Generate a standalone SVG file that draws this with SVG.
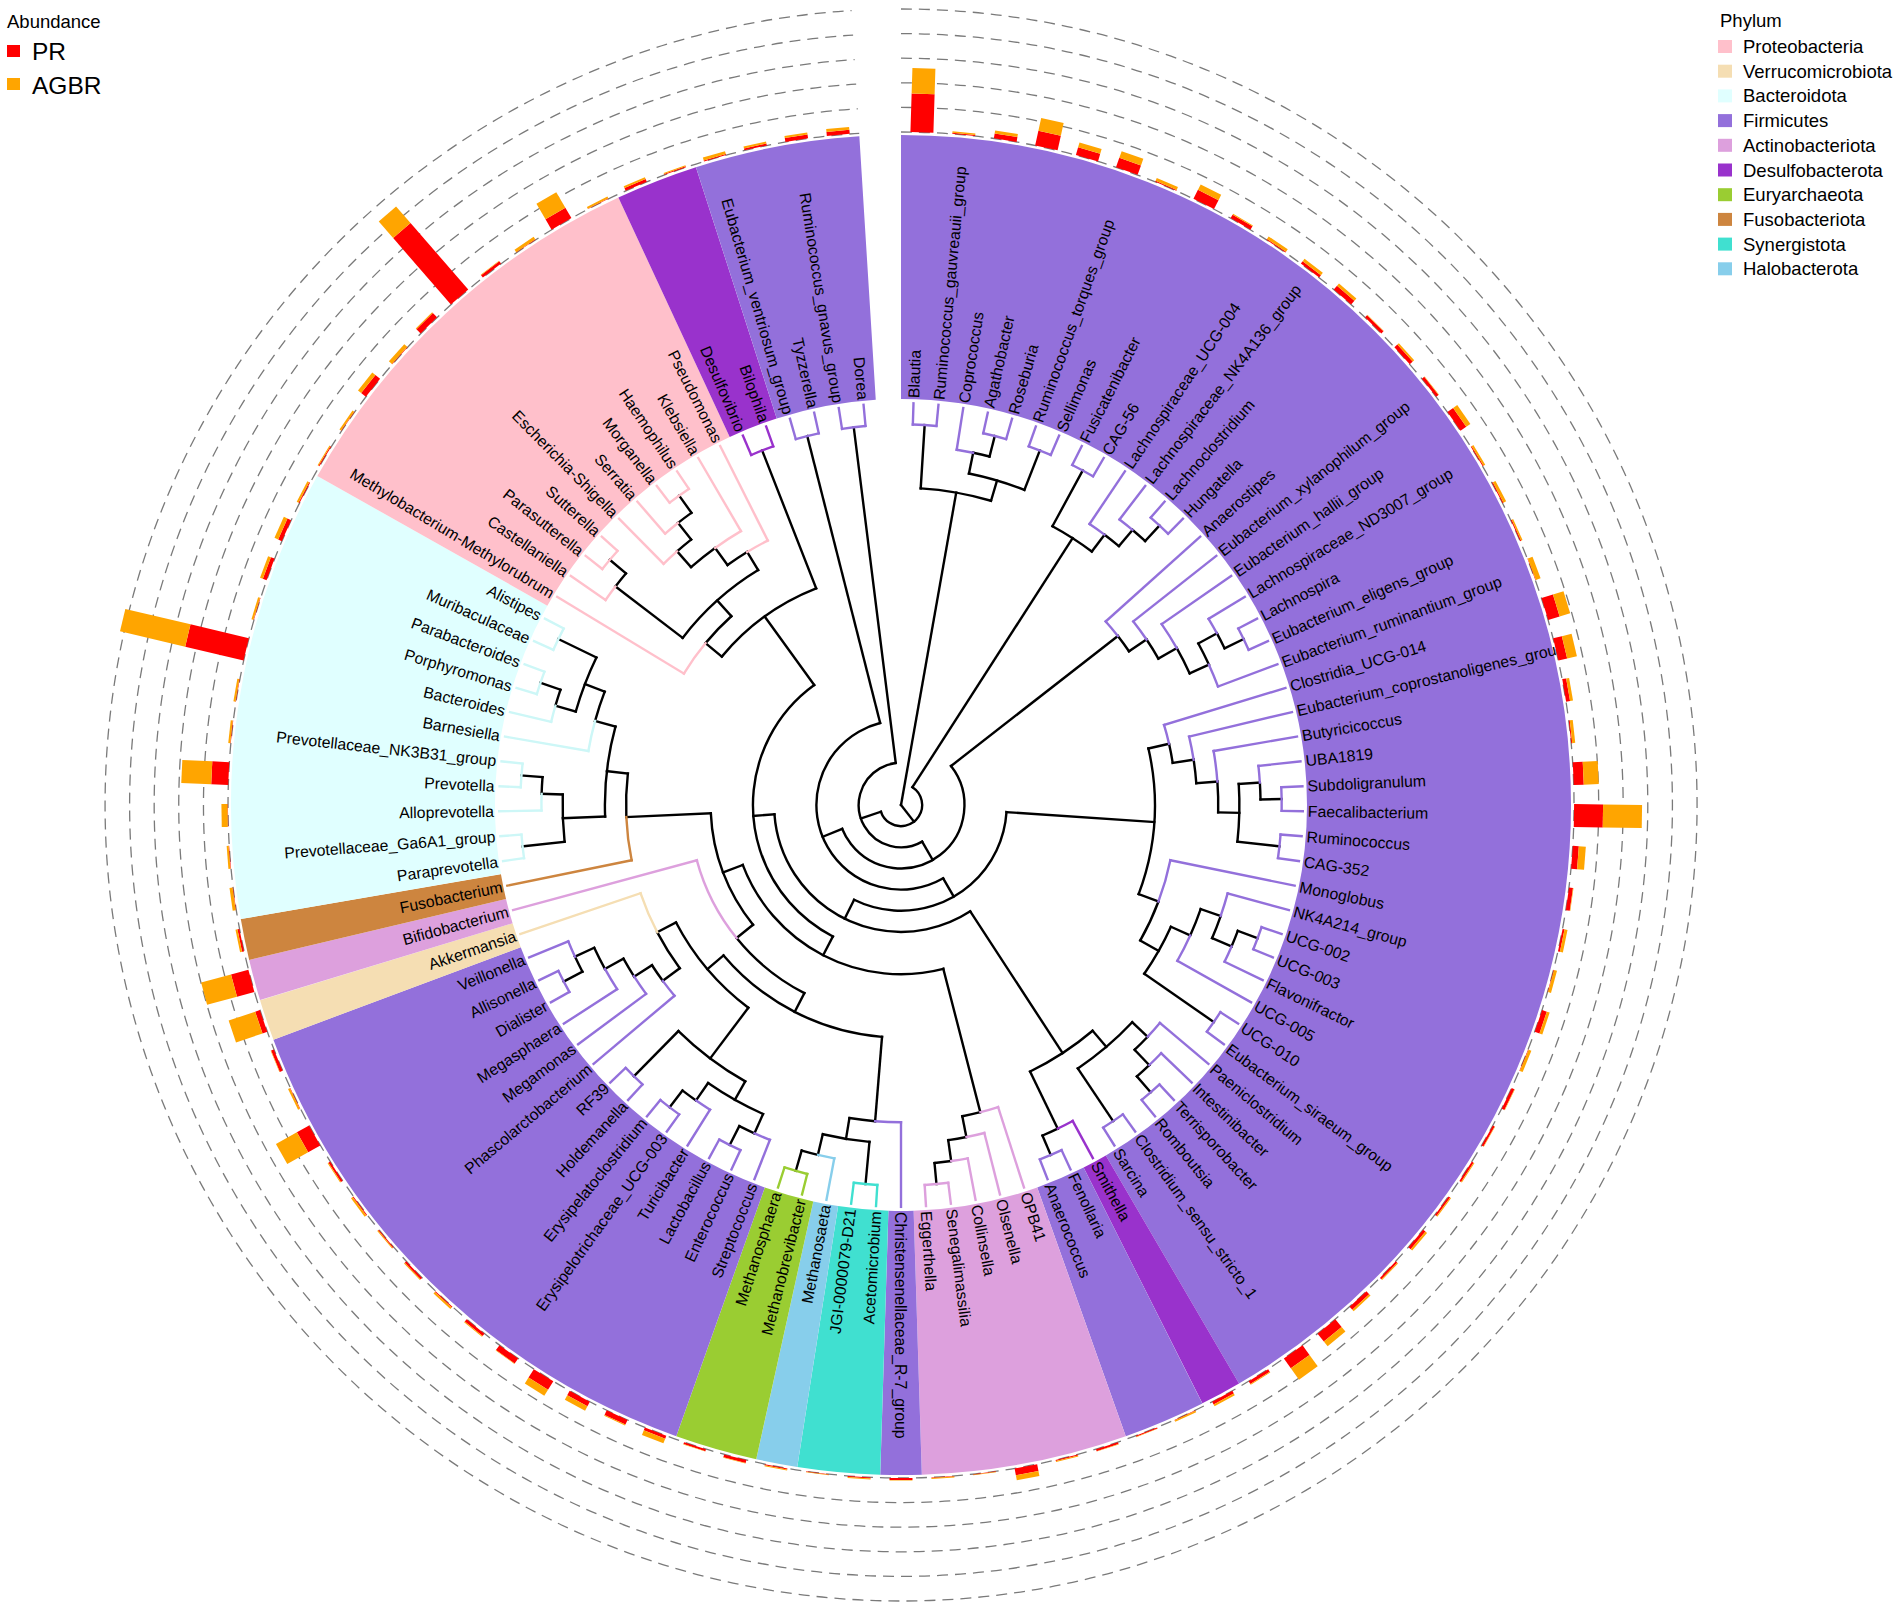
<svg xmlns="http://www.w3.org/2000/svg" width="1902" height="1610" viewBox="0 0 1902 1610">
<style>
text{font-family:"Liberation Sans",Arial,sans-serif;fill:#000}
.l{font-size:15.8px}
.r{text-anchor:end}
.sec{fill:none;stroke-width:264}
.dash{fill:none;stroke:#7a7a7a;stroke-width:1.3;stroke-dasharray:11 7}
.pr{fill:#FF0000}.ag{fill:#FFA500}
.e{fill:none;stroke:#000;stroke-width:2.4;stroke-linecap:square}
.fi{stroke:#9370DB}.de{stroke:#9932CC}.pt{stroke:#FFC0CB}.bc{stroke:#CDF7F7}.ac{stroke:#DDA0DD}.vr{stroke:#F5DEB3}.fu{stroke:#CD853F}.sy{stroke:#40E0D0}.ha{stroke:#87CEEB}.eu{stroke:#9ACD32}
.lt{font-size:18.5px}.lg{font-size:24.5px}
</style>
<rect width="1902" height="1610" fill="#fff"/>
<g id="sectors" transform="translate(901,805)">
<circle class="sec" r="538" pathLength="360" stroke="#9370DB" stroke-dasharray="149.70 400" transform="rotate(-90)"/>
<circle class="sec" r="538" pathLength="360" stroke="#9932CC" stroke-dasharray="3.57 400" transform="rotate(59.70)"/>
<circle class="sec" r="538" pathLength="360" stroke="#9370DB" stroke-dasharray="7.13 400" transform="rotate(63.27)"/>
<circle class="sec" r="538" pathLength="360" stroke="#DDA0DD" stroke-dasharray="17.82 400" transform="rotate(70.40)"/>
<circle class="sec" r="538" pathLength="360" stroke="#9370DB" stroke-dasharray="3.56 400" transform="rotate(88.22)"/>
<circle class="sec" r="538" pathLength="360" stroke="#40E0D0" stroke-dasharray="7.13 400" transform="rotate(91.78)"/>
<circle class="sec" r="538" pathLength="360" stroke="#87CEEB" stroke-dasharray="3.57 400" transform="rotate(98.91)"/>
<circle class="sec" r="538" pathLength="360" stroke="#9ACD32" stroke-dasharray="7.12 400" transform="rotate(102.48)"/>
<circle class="sec" r="538" pathLength="360" stroke="#9370DB" stroke-dasharray="49.90 400" transform="rotate(109.60)"/>
<circle class="sec" r="538" pathLength="360" stroke="#F5DEB3" stroke-dasharray="3.57 400" transform="rotate(159.50)"/>
<circle class="sec" r="538" pathLength="360" stroke="#DDA0DD" stroke-dasharray="3.56 400" transform="rotate(163.07)"/>
<circle class="sec" r="538" pathLength="360" stroke="#CD853F" stroke-dasharray="3.57 400" transform="rotate(166.63)"/>
<circle class="sec" r="538" pathLength="360" stroke="#E0FFFF" stroke-dasharray="39.21 400" transform="rotate(170.20)"/>
<circle class="sec" r="538" pathLength="360" stroke="#FFC0CB" stroke-dasharray="35.64 400" transform="rotate(209.41)"/>
<circle class="sec" r="538" pathLength="360" stroke="#9932CC" stroke-dasharray="7.13 400" transform="rotate(245.05)"/>
<circle class="sec" r="538" pathLength="360" stroke="#9370DB" stroke-dasharray="14.26 400" transform="rotate(252.18)"/>
</g>
<g id="grid" transform="translate(901,805)">
<path class="dash" d="M0,-673A673,673 0 1 1 -41.79,-671.70"/>
<path class="dash" d="M0,-697.6A697.6,697.6 0 1 1 -43.31,-696.25"/>
<path class="dash" d="M0,-722.2A722.2,722.2 0 1 1 -44.84,-720.81"/>
<path class="dash" d="M0,-746.8A746.8,746.8 0 1 1 -46.37,-745.36"/>
<path class="dash" d="M0,-771.4A771.4,771.4 0 1 1 -47.90,-769.91"/>
<path class="dash" d="M0,-796A796,796 0 1 1 -49.42,-794.46"/>
</g>
<g id="bars" transform="translate(901,805)">
<g transform="rotate(1.782)"><rect class="pr" x="-11.5" y="-711.4" width="23" height="38.4"/><rect class="ag" x="-11.5" y="-737" width="23" height="25.6"/></g>
<g transform="rotate(5.347)"><rect class="pr" x="-11.5" y="-674" width="23" height="1"/><rect class="ag" x="-11.5" y="-675.5" width="23" height="1.5"/></g>
<g transform="rotate(8.911)"><rect class="pr" x="-11.5" y="-678" width="23" height="5"/><rect class="ag" x="-11.5" y="-681" width="23" height="3"/></g>
<g transform="rotate(12.475)"><rect class="pr" x="-11.5" y="-688" width="23" height="15"/><rect class="ag" x="-11.5" y="-701" width="23" height="13"/></g>
<g transform="rotate(16.040)"><rect class="pr" x="-11.5" y="-681" width="23" height="8"/><rect class="ag" x="-11.5" y="-686" width="23" height="5"/></g>
<g transform="rotate(19.604)"><rect class="pr" x="-11.5" y="-683" width="23" height="10"/><rect class="ag" x="-11.5" y="-690" width="23" height="7"/></g>
<g transform="rotate(23.168)"><rect class="pr" x="-11.5" y="-674" width="23" height="1"/><rect class="ag" x="-11.5" y="-677" width="23" height="3"/></g>
<g transform="rotate(26.733)"><rect class="pr" x="-11.5" y="-683" width="23" height="10"/><rect class="ag" x="-11.5" y="-689" width="23" height="6"/></g>
<g transform="rotate(30.297)"><rect class="pr" x="-11.5" y="-677" width="23" height="4"/><rect class="ag" x="-11.5" y="-678" width="23" height="1"/></g>
<g transform="rotate(33.861)"><rect class="pr" x="-11.5" y="-674" width="23" height="1"/><rect class="ag" x="-11.5" y="-677" width="23" height="3"/></g>
<g transform="rotate(37.426)"><rect class="pr" x="-11.5" y="-676" width="23" height="3"/><rect class="ag" x="-11.5" y="-679" width="23" height="3"/></g>
<g transform="rotate(40.990)"><rect class="pr" x="-11.5" y="-678" width="23" height="5"/><rect class="ag" x="-11.5" y="-681" width="23" height="3"/></g>
<g transform="rotate(44.554)"><rect class="pr" x="-11.5" y="-676" width="23" height="3"/><rect class="ag" x="-11.5" y="-676.5" width="23" height="0.5"/></g>
<g transform="rotate(48.119)"><rect class="pr" x="-11.5" y="-677" width="23" height="4"/><rect class="ag" x="-11.5" y="-679" width="23" height="2"/></g>
<g transform="rotate(51.683)"><rect class="pr" x="-11.5" y="-676" width="23" height="3"/><rect class="ag" x="-11.5" y="-676.5" width="23" height="0.5"/></g>
<g transform="rotate(55.248)"><rect class="pr" x="-11.5" y="-680" width="23" height="7"/><rect class="ag" x="-11.5" y="-685" width="23" height="5"/></g>
<g transform="rotate(58.812)"><rect class="pr" x="-11.5" y="-674" width="23" height="1"/><rect class="ag" x="-11.5" y="-676" width="23" height="2"/></g>
<g transform="rotate(62.376)"><rect class="pr" x="-11.5" y="-674" width="23" height="1"/><rect class="ag" x="-11.5" y="-677" width="23" height="3"/></g>
<g transform="rotate(65.941)"><rect class="pr" x="-11.5" y="-674" width="23" height="1"/><rect class="ag" x="-11.5" y="-675.5" width="23" height="1.5"/></g>
<g transform="rotate(69.505)"><rect class="pr" x="-11.5" y="-673.5" width="23" height="0.5"/><rect class="ag" x="-11.5" y="-678.5" width="23" height="5"/></g>
<g transform="rotate(73.069)"><rect class="pr" x="-11.5" y="-685" width="23" height="12"/><rect class="ag" x="-11.5" y="-696" width="23" height="11"/></g>
<g transform="rotate(76.634)"><rect class="pr" x="-11.5" y="-682" width="23" height="9"/><rect class="ag" x="-11.5" y="-692" width="23" height="10"/></g>
<g transform="rotate(80.198)"><rect class="pr" x="-11.5" y="-677" width="23" height="4"/><rect class="ag" x="-11.5" y="-680" width="23" height="3"/></g>
<g transform="rotate(83.762)"><rect class="pr" x="-11.5" y="-674" width="23" height="1"/><rect class="ag" x="-11.5" y="-677" width="23" height="3"/></g>
<g transform="rotate(87.327)"><rect class="pr" x="-11.5" y="-683" width="23" height="10"/><rect class="ag" x="-11.5" y="-698" width="23" height="15"/></g>
<g transform="rotate(90.891)"><rect class="pr" x="-11.5" y="-702" width="23" height="29"/><rect class="ag" x="-11.5" y="-741" width="23" height="39"/></g>
<g transform="rotate(94.455)"><rect class="pr" x="-11.5" y="-679" width="23" height="6"/><rect class="ag" x="-11.5" y="-686" width="23" height="7"/></g>
<g transform="rotate(98.020)"><rect class="pr" x="-11.5" y="-677" width="23" height="4"/><rect class="ag" x="-11.5" y="-677.5" width="23" height="0.5"/></g>
<g transform="rotate(101.584)"><rect class="pr" x="-11.5" y="-675" width="23" height="2"/><rect class="ag" x="-11.5" y="-678" width="23" height="3"/></g>
<g transform="rotate(105.149)"><rect class="pr" x="-11.5" y="-673.5" width="23" height="0.5"/><rect class="ag" x="-11.5" y="-676.5" width="23" height="3"/></g>
<g transform="rotate(108.713)"><rect class="pr" x="-11.5" y="-678" width="23" height="5"/><rect class="ag" x="-11.5" y="-681" width="23" height="3"/></g>
<g transform="rotate(112.277)"><rect class="pr" x="-11.5" y="-673.5" width="23" height="0.5"/><rect class="ag" x="-11.5" y="-676.5" width="23" height="3"/></g>
<g transform="rotate(115.842)"><rect class="pr" x="-11.5" y="-676" width="23" height="3"/><rect class="ag" x="-11.5" y="-676.5" width="23" height="0.5"/></g>
<g transform="rotate(119.406)"><rect class="pr" x="-11.5" y="-675" width="23" height="2"/><rect class="ag" x="-11.5" y="-675.5" width="23" height="0.5"/></g>
<g transform="rotate(122.970)"><rect class="pr" x="-11.5" y="-675" width="23" height="2"/><rect class="ag" x="-11.5" y="-676" width="23" height="1"/></g>
<g transform="rotate(126.535)"><rect class="pr" x="-11.5" y="-675" width="23" height="2"/><rect class="ag" x="-11.5" y="-676" width="23" height="1"/></g>
<g transform="rotate(130.099)"><rect class="pr" x="-11.5" y="-676" width="23" height="3"/><rect class="ag" x="-11.5" y="-678" width="23" height="2"/></g>
<g transform="rotate(133.663)"><rect class="pr" x="-11.5" y="-675" width="23" height="2"/><rect class="ag" x="-11.5" y="-676" width="23" height="1"/></g>
<g transform="rotate(137.228)"><rect class="pr" x="-11.5" y="-677" width="23" height="4"/><rect class="ag" x="-11.5" y="-679" width="23" height="2"/></g>
<g transform="rotate(140.792)"><rect class="pr" x="-11.5" y="-683" width="23" height="10"/><rect class="ag" x="-11.5" y="-689" width="23" height="6"/></g>
<g transform="rotate(144.356)"><rect class="pr" x="-11.5" y="-685" width="23" height="12"/><rect class="ag" x="-11.5" y="-699" width="23" height="14"/></g>
<g transform="rotate(147.921)"><rect class="pr" x="-11.5" y="-676" width="23" height="3"/><rect class="ag" x="-11.5" y="-677" width="23" height="1"/></g>
<g transform="rotate(151.485)"><rect class="pr" x="-11.5" y="-676" width="23" height="3"/><rect class="ag" x="-11.5" y="-678" width="23" height="2"/></g>
<g transform="rotate(155.050)"><rect class="pr" x="-11.5" y="-673.5" width="23" height="0.5"/><rect class="ag" x="-11.5" y="-675" width="23" height="1.5"/></g>
<g transform="rotate(158.614)"><rect class="pr" x="-11.5" y="-674" width="23" height="1"/><rect class="ag" x="-11.5" y="-674.5" width="23" height="0.5"/></g>
<g transform="rotate(162.178)"><rect class="pr" x="-11.5" y="-675" width="23" height="2"/><rect class="ag" x="-11.5" y="-675.5" width="23" height="0.5"/></g>
<g transform="rotate(165.743)"><rect class="pr" x="-11.5" y="-674" width="23" height="1"/><rect class="ag" x="-11.5" y="-675" width="23" height="1"/></g>
<g transform="rotate(169.307)"><rect class="pr" x="-11.5" y="-680" width="23" height="7"/><rect class="ag" x="-11.5" y="-685" width="23" height="5"/></g>
<g transform="rotate(172.871)"><rect class="pr" x="-11.5" y="-673.5" width="23" height="0.5"/><rect class="ag" x="-11.5" y="-674" width="23" height="0.5"/></g>
<g transform="rotate(176.436)"><rect class="pr" x="-11.5" y="-673.5" width="23" height="0.5"/><rect class="ag" x="-11.5" y="-674.5" width="23" height="1"/></g>
<g transform="rotate(180)"><rect class="pr" x="-11.5" y="-675" width="23" height="2"/><rect class="ag" x="-11.5" y="-675.5" width="23" height="0.5"/></g>
<g transform="rotate(183.564)"><rect class="pr" x="-11.5" y="-674" width="23" height="1"/><rect class="ag" x="-11.5" y="-675" width="23" height="1"/></g>
<g transform="rotate(187.129)"><rect class="pr" x="-11.5" y="-673.5" width="23" height="0.5"/><rect class="ag" x="-11.5" y="-674" width="23" height="0.5"/></g>
<g transform="rotate(190.693)"><rect class="pr" x="-11.5" y="-674" width="23" height="1"/><rect class="ag" x="-11.5" y="-675" width="23" height="1"/></g>
<g transform="rotate(194.257)"><rect class="pr" x="-11.5" y="-676" width="23" height="3"/><rect class="ag" x="-11.5" y="-676.5" width="23" height="0.5"/></g>
<g transform="rotate(197.822)"><rect class="pr" x="-11.5" y="-675" width="23" height="2"/><rect class="ag" x="-11.5" y="-675.5" width="23" height="0.5"/></g>
<g transform="rotate(201.386)"><rect class="pr" x="-11.5" y="-676" width="23" height="3"/><rect class="ag" x="-11.5" y="-681" width="23" height="5"/></g>
<g transform="rotate(204.950)"><rect class="pr" x="-11.5" y="-678" width="23" height="5"/><rect class="ag" x="-11.5" y="-679" width="23" height="1"/></g>
<g transform="rotate(208.515)"><rect class="pr" x="-11.5" y="-678" width="23" height="5"/><rect class="ag" x="-11.5" y="-683" width="23" height="5"/></g>
<g transform="rotate(212.079)"><rect class="pr" x="-11.5" y="-683" width="23" height="10"/><rect class="ag" x="-11.5" y="-690" width="23" height="7"/></g>
<g transform="rotate(215.644)"><rect class="pr" x="-11.5" y="-679" width="23" height="6"/><rect class="ag" x="-11.5" y="-679.5" width="23" height="0.5"/></g>
<g transform="rotate(219.208)"><rect class="pr" x="-11.5" y="-676" width="23" height="3"/><rect class="ag" x="-11.5" y="-677" width="23" height="1"/></g>
<g transform="rotate(222.772)"><rect class="pr" x="-11.5" y="-674" width="23" height="1"/><rect class="ag" x="-11.5" y="-676" width="23" height="2"/></g>
<g transform="rotate(226.337)"><rect class="pr" x="-11.5" y="-675" width="23" height="2"/><rect class="ag" x="-11.5" y="-676" width="23" height="1"/></g>
<g transform="rotate(229.901)"><rect class="pr" x="-11.5" y="-674" width="23" height="1"/><rect class="ag" x="-11.5" y="-675" width="23" height="1"/></g>
<g transform="rotate(233.465)"><rect class="pr" x="-11.5" y="-674" width="23" height="1"/><rect class="ag" x="-11.5" y="-676" width="23" height="2"/></g>
<g transform="rotate(237.030)"><rect class="pr" x="-11.5" y="-675" width="23" height="2"/><rect class="ag" x="-11.5" y="-676" width="23" height="1"/></g>
<g transform="rotate(240.594)"><rect class="pr" x="-11.5" y="-687" width="23" height="14"/><rect class="ag" x="-11.5" y="-711" width="23" height="24"/></g>
<g transform="rotate(244.158)"><rect class="pr" x="-11.5" y="-673.5" width="23" height="0.5"/><rect class="ag" x="-11.5" y="-675.5" width="23" height="2"/></g>
<g transform="rotate(247.723)"><rect class="pr" x="-11.5" y="-676" width="23" height="3"/><rect class="ag" x="-11.5" y="-676.5" width="23" height="0.5"/></g>
<g transform="rotate(251.287)"><rect class="pr" x="-11.5" y="-678" width="23" height="5"/><rect class="ag" x="-11.5" y="-706" width="23" height="28"/></g>
<g transform="rotate(254.851)"><rect class="pr" x="-11.5" y="-691" width="23" height="18"/><rect class="ag" x="-11.5" y="-722" width="23" height="31"/></g>
<g transform="rotate(258.416)"><rect class="pr" x="-11.5" y="-675" width="23" height="2"/><rect class="ag" x="-11.5" y="-677" width="23" height="2"/></g>
<g transform="rotate(261.980)"><rect class="pr" x="-11.5" y="-673.5" width="23" height="0.5"/><rect class="ag" x="-11.5" y="-676.5" width="23" height="3"/></g>
<g transform="rotate(265.545)"><rect class="pr" x="-11.5" y="-673.5" width="23" height="0.5"/><rect class="ag" x="-11.5" y="-675.5" width="23" height="2"/></g>
<g transform="rotate(269.109)"><rect class="pr" x="-11.5" y="-673.5" width="23" height="0.5"/><rect class="ag" x="-11.5" y="-679.5" width="23" height="6"/></g>
<g transform="rotate(272.673)"><rect class="pr" x="-11.5" y="-690" width="23" height="17"/><rect class="ag" x="-11.5" y="-720" width="23" height="30"/></g>
<g transform="rotate(276.238)"><rect class="pr" x="-11.5" y="-673.5" width="23" height="0.5"/><rect class="ag" x="-11.5" y="-675.5" width="23" height="2"/></g>
<g transform="rotate(279.802)"><rect class="pr" x="-11.5" y="-673.5" width="23" height="0.5"/><rect class="ag" x="-11.5" y="-675.5" width="23" height="2"/></g>
<g transform="rotate(283.366)"><rect class="pr" x="-11.5" y="-733" width="23" height="60"/><rect class="ag" x="-11.5" y="-800" width="23" height="67"/></g>
<g transform="rotate(286.931)"><rect class="pr" x="-11.5" y="-673.5" width="23" height="0.5"/><rect class="ag" x="-11.5" y="-675.5" width="23" height="2"/></g>
<g transform="rotate(290.495)"><rect class="pr" x="-11.5" y="-677" width="23" height="4"/><rect class="ag" x="-11.5" y="-680" width="23" height="3"/></g>
<g transform="rotate(294.059)"><rect class="pr" x="-11.5" y="-677" width="23" height="4"/><rect class="ag" x="-11.5" y="-681" width="23" height="4"/></g>
<g transform="rotate(297.624)"><rect class="pr" x="-11.5" y="-674" width="23" height="1"/><rect class="ag" x="-11.5" y="-676" width="23" height="2"/></g>
<g transform="rotate(301.188)"><rect class="pr" x="-11.5" y="-674" width="23" height="1"/><rect class="ag" x="-11.5" y="-675" width="23" height="1"/></g>
<g transform="rotate(304.752)"><rect class="pr" x="-11.5" y="-673.5" width="23" height="0.5"/><rect class="ag" x="-11.5" y="-675.5" width="23" height="2"/></g>
<g transform="rotate(308.317)"><rect class="pr" x="-11.5" y="-679" width="23" height="6"/><rect class="ag" x="-11.5" y="-683" width="23" height="4"/></g>
<g transform="rotate(311.881)"><rect class="pr" x="-11.5" y="-673.5" width="23" height="0.5"/><rect class="ag" x="-11.5" y="-677.5" width="23" height="4"/></g>
<g transform="rotate(315.446)"><rect class="pr" x="-11.5" y="-679" width="23" height="6"/><rect class="ag" x="-11.5" y="-680" width="23" height="1"/></g>
<g transform="rotate(319.010)"><rect class="pr" x="-11.5" y="-761" width="23" height="88"/><rect class="ag" x="-11.5" y="-783" width="23" height="22"/></g>
<g transform="rotate(322.574)"><rect class="pr" x="-11.5" y="-676" width="23" height="3"/><rect class="ag" x="-11.5" y="-676.5" width="23" height="0.5"/></g>
<g transform="rotate(326.139)"><rect class="pr" x="-11.5" y="-673.5" width="23" height="0.5"/><rect class="ag" x="-11.5" y="-676.5" width="23" height="3"/></g>
<g transform="rotate(329.703)"><rect class="pr" x="-11.5" y="-685" width="23" height="12"/><rect class="ag" x="-11.5" y="-703" width="23" height="18"/></g>
<g transform="rotate(333.267)"><rect class="pr" x="-11.5" y="-673.5" width="23" height="0.5"/><rect class="ag" x="-11.5" y="-675.5" width="23" height="2"/></g>
<g transform="rotate(336.832)"><rect class="pr" x="-11.5" y="-676" width="23" height="3"/><rect class="ag" x="-11.5" y="-678" width="23" height="2"/></g>
<g transform="rotate(340.396)"><rect class="pr" x="-11.5" y="-674" width="23" height="1"/><rect class="ag" x="-11.5" y="-675" width="23" height="1"/></g>
<g transform="rotate(343.960)"><rect class="pr" x="-11.5" y="-674" width="23" height="1"/><rect class="ag" x="-11.5" y="-677" width="23" height="3"/></g>
<g transform="rotate(347.525)"><rect class="pr" x="-11.5" y="-675" width="23" height="2"/><rect class="ag" x="-11.5" y="-677" width="23" height="2"/></g>
<g transform="rotate(351.089)"><rect class="pr" x="-11.5" y="-677" width="23" height="4"/><rect class="ag" x="-11.5" y="-679" width="23" height="2"/></g>
<g transform="rotate(354.653)"><rect class="pr" x="-11.5" y="-677" width="23" height="4"/><rect class="ag" x="-11.5" y="-680" width="23" height="3"/></g>
</g>
<g id="connectors" class="e" transform="translate(901,805)">
<path d="M0,0V-317.25" transform="rotate(10.0248)"/>
<path d="M0,0V-21.15" transform="rotate(142.0902)"/>
<path d="M0-21.15V-317.25" transform="rotate(32.7475)"/>
<path d="M0-21.15V-42.3" transform="rotate(251.4329)"/>
<path d="M0-42.3V-63.45" transform="rotate(149.9947)"/>
<path d="M0-42.3V-380.7" transform="rotate(352.871)"/>
<path d="M0-63.45V-274.95" transform="rotate(52.0732)"/>
<path d="M0-63.45V-84.6" transform="rotate(247.9161)"/>
<path d="M0-84.6V-105.75" transform="rotate(150.0897)"/>
<path d="M0-84.6V-380.7" transform="rotate(345.7425)"/>
<path d="M0-105.75V-253.8" transform="rotate(93.8429)"/>
<path d="M0-105.75V-126.9" transform="rotate(206.3364)"/>
<path d="M0-126.9V-296.1" transform="rotate(146.9184)"/>
<path d="M0-126.9V-148.05" transform="rotate(265.7543)"/>
<path d="M0-148.05V-169.2" transform="rotate(207.3888)"/>
<path d="M0-148.05V-232.65" transform="rotate(324.1198)"/>
<path d="M0-169.2V-317.25" transform="rotate(165.5198)"/>
<path d="M0-169.2V-190.35" transform="rotate(249.2578)"/>
<path d="M0-190.35V-211.5" transform="rotate(231.0216)"/>
<path d="M0-190.35V-274.95" transform="rotate(267.4939)"/>
<path d="M0-211.5V-232.65" transform="rotate(207.1922)"/>
<path d="M0-232.65V-317.25" transform="rotate(184.6782)"/>
<path d="M0-232.65V-253.8" transform="rotate(229.7061)"/>
<path d="M0-253.8V-317.25" transform="rotate(216.9802)"/>
<path d="M0-253.8V-274.95" transform="rotate(242.4319)"/>
<path d="M0-274.95V-296.1" transform="rotate(233.5767)"/>
<path d="M0-296.1V-317.25" transform="rotate(237.2524)"/>
<path d="M0-317.25V-338.4" transform="rotate(241.0398)"/>
<path d="M0-338.4V-359.55" transform="rotate(245.0495)"/>
<path d="M0-359.55V-380.7" transform="rotate(242.376)"/>
<path d="M0-317.25V-338.4" transform="rotate(209.4058)"/>
<path d="M0-317.25V-380.7" transform="rotate(224.5545)"/>
<path d="M0-338.4V-359.55" transform="rotate(204.059)"/>
<path d="M0-338.4V-359.55" transform="rotate(214.7525)"/>
<path d="M0-359.55V-380.7" transform="rotate(206.7325)"/>
<path d="M0-359.55V-380.7" transform="rotate(217.426)"/>
<path d="M0-317.25V-338.4" transform="rotate(189.3563)"/>
<path d="M0-338.4V-380.7" transform="rotate(185.3465)"/>
<path d="M0-338.4V-359.55" transform="rotate(193.366)"/>
<path d="M0-359.55V-380.7" transform="rotate(196.0395)"/>
<path d="M0-274.95V-296.1" transform="rotate(276.5718)"/>
<path d="M0-296.1V-338.4" transform="rotate(267.7723)"/>
<path d="M0-296.1V-317.25" transform="rotate(285.3713)"/>
<path d="M0-338.4V-380.7" transform="rotate(263.7625)"/>
<path d="M0-338.4V-359.55" transform="rotate(271.782)"/>
<path d="M0-359.55V-380.7" transform="rotate(274.4555)"/>
<path d="M0-317.25V-338.4" transform="rotate(290.9405)"/>
<path d="M0-338.4V-359.55" transform="rotate(286.0395)"/>
<path d="M0-338.4V-380.7" transform="rotate(295.8415)"/>
<path d="M0-359.55V-380.7" transform="rotate(288.713)"/>
<path d="M0-232.65V-253.8" transform="rotate(309.6255)"/>
<path d="M0-232.65V-380.7" transform="rotate(338.614)"/>
<path d="M0-253.8V-274.95" transform="rotate(318.063)"/>
<path d="M0-274.95V-359.55" transform="rotate(307.4255)"/>
<path d="M0-274.95V-296.1" transform="rotate(328.7004)"/>
<path d="M0-359.55V-380.7" transform="rotate(310.099)"/>
<path d="M0-296.1V-317.25" transform="rotate(324.1338)"/>
<path d="M0-317.25V-338.4" transform="rotate(318.5645)"/>
<path d="M0-338.4V-359.55" transform="rotate(321.683)"/>
<path d="M0-359.55V-380.7" transform="rotate(324.3565)"/>
<path d="M0-317.25V-380.7" transform="rotate(3.5645)"/>
<path d="M0-317.25V-338.4" transform="rotate(16.485)"/>
<path d="M0-338.4V-359.55" transform="rotate(11.584)"/>
<path d="M0-338.4V-380.7" transform="rotate(21.386)"/>
<path d="M0-359.55V-380.7" transform="rotate(14.2575)"/>
<path d="M0-317.25V-380.7" transform="rotate(28.515)"/>
<path d="M0-317.25V-338.4" transform="rotate(36.98)"/>
<path d="M0-338.4V-359.55" transform="rotate(40.099)"/>
<path d="M0-359.55V-380.7" transform="rotate(42.772)"/>
<path d="M0-274.95V-296.1" transform="rotate(56.0273)"/>
<path d="M0-296.1V-317.25" transform="rotate(60.3715)"/>
<path d="M0-317.25V-338.4" transform="rotate(65.495)"/>
<path d="M0-338.4V-359.55" transform="rotate(61.485)"/>
<path d="M0-359.55V-380.7" transform="rotate(64.1585)"/>
<path d="M0-253.8V-274.95" transform="rotate(77.1349)"/>
<path d="M0-253.8V-274.95" transform="rotate(110.5508)"/>
<path d="M0-274.95V-296.1" transform="rotate(81.2007)"/>
<path d="M0-296.1V-317.25" transform="rotate(85.7673)"/>
<path d="M0-317.25V-338.4" transform="rotate(91.3365)"/>
<path d="M0-338.4V-359.55" transform="rotate(86.4355)"/>
<path d="M0-338.4V-380.7" transform="rotate(96.2375)"/>
<path d="M0-359.55V-380.7" transform="rotate(89.109)"/>
<path d="M0-274.95V-296.1" transform="rotate(119.5175)"/>
<path d="M0-296.1V-317.25" transform="rotate(114.2824)"/>
<path d="M0-296.1V-380.7" transform="rotate(124.7525)"/>
<path d="M0-317.25V-338.4" transform="rotate(109.1588)"/>
<path d="M0-338.4V-359.55" transform="rotate(113.1685)"/>
<path d="M0-359.55V-380.7" transform="rotate(110.495)"/>
<path d="M0-296.1V-317.25" transform="rotate(139.6782)"/>
<path d="M0-296.1V-359.55" transform="rotate(154.1585)"/>
<path d="M0-317.25V-338.4" transform="rotate(133.2178)"/>
<path d="M0-317.25V-380.7" transform="rotate(146.1385)"/>
<path d="M0-338.4V-359.55" transform="rotate(136.3365)"/>
<path d="M0-359.55V-380.7" transform="rotate(139.01)"/>
<path d="M0-359.55V-380.7" transform="rotate(156.832)"/>
<path d="M0-317.25V-338.4" transform="rotate(168.8615)"/>
<path d="M0-338.4V-359.55" transform="rotate(171.98)"/>
<path d="M0-359.55V-380.7" transform="rotate(174.6535)"/>
<circle r="21.15" pathLength="360" stroke-dasharray="218.6854 400" transform="rotate(-57.2525)"/>
<circle r="42.3" pathLength="360" stroke-dasharray="202.8763 400" transform="rotate(59.9947)"/>
<circle r="63.45" pathLength="360" stroke-dasharray="195.8429 400" transform="rotate(-37.9268)"/>
<circle r="84.6" pathLength="360" stroke-dasharray="195.6528 400" transform="rotate(60.0897)"/>
<circle r="105.75" pathLength="360" stroke-dasharray="112.4935 400" transform="rotate(3.8429)"/>
<circle r="126.9" pathLength="360" stroke-dasharray="118.8359 400" transform="rotate(56.9184)"/>
<circle r="148.05" pathLength="360" stroke-dasharray="116.731 400" transform="rotate(117.3888)"/>
<circle r="169.2" pathLength="360" stroke-dasharray="83.738 400" transform="rotate(75.5198)"/>
<circle r="190.35" pathLength="360" stroke-dasharray="36.4723 400" transform="rotate(141.0216)"/>
<circle r="211.5" pathLength="360" stroke-dasharray="23.8294 400" transform="rotate(117.1922)"/>
<circle r="232.65" pathLength="360" stroke-dasharray="45.0279 400" transform="rotate(94.6782)"/>
<circle r="253.8" pathLength="360" stroke-dasharray="25.4517 400" transform="rotate(126.9802)"/>
<circle r="274.95" pathLength="360" stroke-dasharray="8.8552 400" transform="rotate(143.5767)"/>
<circle r="296.1" pathLength="360" stroke-dasharray="3.6757 400" transform="rotate(143.5767)"/>
<circle r="317.25" pathLength="360" stroke-dasharray="3.7874 400" transform="rotate(147.2524)"/>
<circle r="338.4" pathLength="360" stroke-dasharray="4.0097 400" transform="rotate(151.0398)"/>
<circle r="359.55" pathLength="360" stroke-dasharray="2.6735 400" transform="rotate(152.376)"/>
<circle r="317.25" pathLength="360" stroke-dasharray="15.1487 400" transform="rotate(119.4058)"/>
<circle r="338.4" pathLength="360" stroke-dasharray="10.6935 400" transform="rotate(114.059)"/>
<circle r="359.55" pathLength="360" stroke-dasharray="2.6735 400" transform="rotate(114.059)"/>
<circle r="359.55" pathLength="360" stroke-dasharray="2.6735 400" transform="rotate(124.7525)"/>
<circle r="317.25" pathLength="360" stroke-dasharray="4.6781 400" transform="rotate(94.6782)"/>
<circle r="338.4" pathLength="360" stroke-dasharray="8.0195 400" transform="rotate(95.3465)"/>
<circle r="359.55" pathLength="360" stroke-dasharray="2.6735 400" transform="rotate(103.366)"/>
<circle r="274.95" pathLength="360" stroke-dasharray="9.0779 400" transform="rotate(177.4939)"/>
<circle r="296.1" pathLength="360" stroke-dasharray="17.599 400" transform="rotate(177.7723)"/>
<circle r="338.4" pathLength="360" stroke-dasharray="8.0195 400" transform="rotate(173.7625)"/>
<circle r="359.55" pathLength="360" stroke-dasharray="2.6735 400" transform="rotate(181.782)"/>
<circle r="317.25" pathLength="360" stroke-dasharray="5.5692 400" transform="rotate(195.3713)"/>
<circle r="338.4" pathLength="360" stroke-dasharray="9.802 400" transform="rotate(196.0395)"/>
<circle r="359.55" pathLength="360" stroke-dasharray="2.6735 400" transform="rotate(196.0395)"/>
<circle r="232.65" pathLength="360" stroke-dasharray="28.9885 400" transform="rotate(219.6255)"/>
<circle r="253.8" pathLength="360" stroke-dasharray="8.4375 400" transform="rotate(219.6255)"/>
<circle r="274.95" pathLength="360" stroke-dasharray="21.2749 400" transform="rotate(217.4255)"/>
<circle r="359.55" pathLength="360" stroke-dasharray="2.6735 400" transform="rotate(217.4255)"/>
<circle r="296.1" pathLength="360" stroke-dasharray="4.5666 400" transform="rotate(234.1338)"/>
<circle r="317.25" pathLength="360" stroke-dasharray="5.5693 400" transform="rotate(228.5645)"/>
<circle r="338.4" pathLength="360" stroke-dasharray="3.1185 400" transform="rotate(228.5645)"/>
<circle r="359.55" pathLength="360" stroke-dasharray="2.6735 400" transform="rotate(231.683)"/>
<circle r="317.25" pathLength="360" stroke-dasharray="12.9205 400" transform="rotate(-86.4355)"/>
<circle r="338.4" pathLength="360" stroke-dasharray="9.802 400" transform="rotate(-78.416)"/>
<circle r="359.55" pathLength="360" stroke-dasharray="2.6735 400" transform="rotate(-78.416)"/>
<circle r="317.25" pathLength="360" stroke-dasharray="8.465 400" transform="rotate(-61.485)"/>
<circle r="338.4" pathLength="360" stroke-dasharray="3.119 400" transform="rotate(-53.02)"/>
<circle r="359.55" pathLength="360" stroke-dasharray="2.673 400" transform="rotate(-49.901)"/>
<circle r="274.95" pathLength="360" stroke-dasharray="3.9541 400" transform="rotate(-37.9268)"/>
<circle r="296.1" pathLength="360" stroke-dasharray="4.3442 400" transform="rotate(-33.9727)"/>
<circle r="317.25" pathLength="360" stroke-dasharray="5.1235 400" transform="rotate(-29.6285)"/>
<circle r="338.4" pathLength="360" stroke-dasharray="4.01 400" transform="rotate(-28.515)"/>
<circle r="359.55" pathLength="360" stroke-dasharray="2.6735 400" transform="rotate(-28.515)"/>
<circle r="253.8" pathLength="360" stroke-dasharray="33.4159 400" transform="rotate(-12.8651)"/>
<circle r="274.95" pathLength="360" stroke-dasharray="4.0658 400" transform="rotate(-12.8651)"/>
<circle r="296.1" pathLength="360" stroke-dasharray="4.5666 400" transform="rotate(-8.7993)"/>
<circle r="317.25" pathLength="360" stroke-dasharray="5.5692 400" transform="rotate(-4.2327)"/>
<circle r="338.4" pathLength="360" stroke-dasharray="9.802 400" transform="rotate(-3.5645)"/>
<circle r="359.55" pathLength="360" stroke-dasharray="2.6735 400" transform="rotate(-3.5645)"/>
<circle r="274.95" pathLength="360" stroke-dasharray="8.9667 400" transform="rotate(20.5508)"/>
<circle r="296.1" pathLength="360" stroke-dasharray="10.4701 400" transform="rotate(24.2824)"/>
<circle r="317.25" pathLength="360" stroke-dasharray="5.1236 400" transform="rotate(19.1588)"/>
<circle r="338.4" pathLength="360" stroke-dasharray="4.0097 400" transform="rotate(19.1588)"/>
<circle r="359.55" pathLength="360" stroke-dasharray="2.6735 400" transform="rotate(20.495)"/>
<circle r="296.1" pathLength="360" stroke-dasharray="14.4803 400" transform="rotate(49.6782)"/>
<circle r="317.25" pathLength="360" stroke-dasharray="12.9207 400" transform="rotate(43.2178)"/>
<circle r="338.4" pathLength="360" stroke-dasharray="3.1187 400" transform="rotate(43.2178)"/>
<circle r="359.55" pathLength="360" stroke-dasharray="2.6735 400" transform="rotate(46.3365)"/>
<circle r="359.55" pathLength="360" stroke-dasharray="2.6735 400" transform="rotate(64.1585)"/>
<circle r="317.25" pathLength="360" stroke-dasharray="3.3417 400" transform="rotate(75.5198)"/>
<circle r="338.4" pathLength="360" stroke-dasharray="3.1185 400" transform="rotate(78.8615)"/>
<circle r="359.55" pathLength="360" stroke-dasharray="2.6735 400" transform="rotate(81.98)"/>
<g class="fi">
<path d="M0-380.7V-401.85" transform="rotate(1.782)"/><path d="M0-380.7V-401.85" transform="rotate(5.347)"/><path d="M0-359.55V-401.85" transform="rotate(8.911)"/><path d="M0-380.7V-401.85" transform="rotate(12.475)"/><path d="M0-380.7V-401.85" transform="rotate(16.04)"/><path d="M0-380.7V-401.85" transform="rotate(19.604)"/><path d="M0-380.7V-401.85" transform="rotate(23.168)"/><path d="M0-380.7V-401.85" transform="rotate(26.733)"/><path d="M0-380.7V-401.85" transform="rotate(30.297)"/><path d="M0-338.4V-401.85" transform="rotate(33.861)"/>
<path d="M0-359.55V-401.85" transform="rotate(37.426)"/><path d="M0-380.7V-401.85" transform="rotate(40.99)"/><path d="M0-380.7V-401.85" transform="rotate(44.554)"/><path d="M0-274.95V-401.85" transform="rotate(48.119)"/><path d="M0-296.1V-401.85" transform="rotate(51.683)"/><path d="M0-317.25V-401.85" transform="rotate(55.248)"/><path d="M0-359.55V-401.85" transform="rotate(58.812)"/><path d="M0-380.7V-401.85" transform="rotate(62.376)"/><path d="M0-380.7V-401.85" transform="rotate(65.941)"/><path d="M0-338.4V-401.85" transform="rotate(69.505)"/>
<path d="M0-274.95V-401.85" transform="rotate(73.069)"/><path d="M0-296.1V-401.85" transform="rotate(76.634)"/><path d="M0-317.25V-401.85" transform="rotate(80.198)"/><path d="M0-359.55V-401.85" transform="rotate(83.762)"/><path d="M0-380.7V-401.85" transform="rotate(87.327)"/><path d="M0-380.7V-401.85" transform="rotate(90.891)"/><path d="M0-380.7V-401.85" transform="rotate(94.455)"/><path d="M0-380.7V-401.85" transform="rotate(98.02)"/><path d="M0-274.95V-401.85" transform="rotate(101.584)"/><path d="M0-338.4V-401.85" transform="rotate(105.149)"/>
<path d="M0-380.7V-401.85" transform="rotate(108.713)"/><path d="M0-380.7V-401.85" transform="rotate(112.277)"/><path d="M0-359.55V-401.85" transform="rotate(115.842)"/><path d="M0-317.25V-401.85" transform="rotate(119.406)"/><path d="M0-380.7V-401.85" transform="rotate(122.97)"/><path d="M0-380.7V-401.85" transform="rotate(126.535)"/><path d="M0-338.4V-401.85" transform="rotate(130.099)"/><path d="M0-359.55V-401.85" transform="rotate(133.663)"/><path d="M0-380.7V-401.85" transform="rotate(137.228)"/><path d="M0-380.7V-401.85" transform="rotate(140.792)"/>
<path d="M0-380.7V-401.85" transform="rotate(144.356)"/><path d="M0-380.7V-401.85" transform="rotate(147.921)"/><path d="M0-380.7V-401.85" transform="rotate(155.05)"/><path d="M0-380.7V-401.85" transform="rotate(158.614)"/><path d="M0-317.25V-401.85" transform="rotate(180)"/><path d="M0-359.55V-401.85" transform="rotate(201.386)"/><path d="M0-380.7V-401.85" transform="rotate(204.95)"/><path d="M0-380.7V-401.85" transform="rotate(208.515)"/><path d="M0-359.55V-401.85" transform="rotate(212.079)"/><path d="M0-380.7V-401.85" transform="rotate(215.644)"/>
<path d="M0-380.7V-401.85" transform="rotate(219.208)"/><path d="M0-380.7V-401.85" transform="rotate(222.772)"/><path d="M0-380.7V-401.85" transform="rotate(226.337)"/><path d="M0-296.1V-401.85" transform="rotate(229.901)"/><path d="M0-317.25V-401.85" transform="rotate(233.465)"/><path d="M0-338.4V-401.85" transform="rotate(237.03)"/><path d="M0-380.7V-401.85" transform="rotate(240.594)"/><path d="M0-380.7V-401.85" transform="rotate(244.158)"/><path d="M0-359.55V-401.85" transform="rotate(247.723)"/>
<path d="M0-380.7V-401.85" transform="rotate(343.96)"/><path d="M0-380.7V-401.85" transform="rotate(347.525)"/><path d="M0-380.7V-401.85" transform="rotate(351.089)"/><path d="M0-380.7V-401.85" transform="rotate(354.653)"/>
<circle r="380.7" pathLength="360" stroke-dasharray="3.565 400" transform="rotate(-88.218)"/>
<circle r="380.7" pathLength="360" stroke-dasharray="3.565 400" transform="rotate(-77.525)"/>
<circle r="380.7" pathLength="360" stroke-dasharray="3.564 400" transform="rotate(-70.396)"/>
<circle r="380.7" pathLength="360" stroke-dasharray="3.564 400" transform="rotate(-63.267)"/>
<circle r="380.7" pathLength="360" stroke-dasharray="3.564 400" transform="rotate(-49.01)"/>
<circle r="380.7" pathLength="360" stroke-dasharray="3.565 400" transform="rotate(-27.624)"/>
<circle r="380.7" pathLength="360" stroke-dasharray="3.564 400" transform="rotate(-2.673)"/>
<circle r="380.7" pathLength="360" stroke-dasharray="3.565 400" transform="rotate(4.455)"/>
<circle r="380.7" pathLength="360" stroke-dasharray="3.564 400" transform="rotate(18.713)"/>
<circle r="380.7" pathLength="360" stroke-dasharray="3.565 400" transform="rotate(32.97)"/>
<circle r="380.7" pathLength="360" stroke-dasharray="3.564 400" transform="rotate(47.228)"/>
<circle r="380.7" pathLength="360" stroke-dasharray="3.565 400" transform="rotate(54.356)"/>
<circle r="380.7" pathLength="360" stroke-dasharray="3.564 400" transform="rotate(65.05)"/>
<circle r="380.7" pathLength="360" stroke-dasharray="3.565 400" transform="rotate(114.95)"/>
<circle r="380.7" pathLength="360" stroke-dasharray="3.564 400" transform="rotate(125.644)"/>
<circle r="380.7" pathLength="360" stroke-dasharray="3.565 400" transform="rotate(132.772)"/>
<circle r="380.7" pathLength="360" stroke-dasharray="3.564 400" transform="rotate(150.594)"/>
<circle r="380.7" pathLength="360" stroke-dasharray="3.565 400" transform="rotate(253.96)"/>
<circle r="380.7" pathLength="360" stroke-dasharray="3.564 400" transform="rotate(261.089)"/>
<circle r="359.55" pathLength="360" stroke-dasharray="2.673 400" transform="rotate(-81.089)"/>
<circle r="338.4" pathLength="360" stroke-dasharray="3.119 400" transform="rotate(-56.139)"/>
<circle r="359.55" pathLength="360" stroke-dasharray="2.673 400" transform="rotate(-52.574)"/>
<circle r="274.95" pathLength="360" stroke-dasharray="3.9542 400" transform="rotate(-41.881)"/>
<circle r="296.1" pathLength="360" stroke-dasharray="4.3443 400" transform="rotate(-38.317)"/>
<circle r="317.25" pathLength="360" stroke-dasharray="5.1235 400" transform="rotate(-34.752)"/>
<circle r="359.55" pathLength="360" stroke-dasharray="2.673 400" transform="rotate(-31.188)"/>
<circle r="338.4" pathLength="360" stroke-dasharray="4.01 400" transform="rotate(-24.505)"/>
<circle r="274.95" pathLength="360" stroke-dasharray="4.0659 400" transform="rotate(-16.931)"/>
<circle r="296.1" pathLength="360" stroke-dasharray="4.5667 400" transform="rotate(-13.366)"/>
<circle r="317.25" pathLength="360" stroke-dasharray="5.5693 400" transform="rotate(-9.802)"/>
<circle r="359.55" pathLength="360" stroke-dasharray="2.6735 400" transform="rotate(-6.238)"/>
<circle r="274.95" pathLength="360" stroke-dasharray="8.9668 400" transform="rotate(11.584)"/>
<circle r="338.4" pathLength="360" stroke-dasharray="4.0098 400" transform="rotate(15.149)"/>
<circle r="359.55" pathLength="360" stroke-dasharray="2.6735 400" transform="rotate(23.1685)"/>
<circle r="317.25" pathLength="360" stroke-dasharray="5.1236 400" transform="rotate(24.2824)"/>
<circle r="338.4" pathLength="360" stroke-dasharray="3.1188 400" transform="rotate(40.099)"/>
<circle r="359.55" pathLength="360" stroke-dasharray="2.6735 400" transform="rotate(43.663)"/>
<circle r="317.25" pathLength="360" stroke-dasharray="4.6782 400" transform="rotate(90)"/>
<circle r="359.55" pathLength="360" stroke-dasharray="2.673 400" transform="rotate(111.386)"/>
<circle r="359.55" pathLength="360" stroke-dasharray="2.6735 400" transform="rotate(122.079)"/>
<circle r="296.1" pathLength="360" stroke-dasharray="3.6757 400" transform="rotate(139.901)"/>
<circle r="317.25" pathLength="360" stroke-dasharray="3.8937 400" transform="rotate(143.465)"/>
<circle r="338.4" pathLength="360" stroke-dasharray="4.0098 400" transform="rotate(147.03)"/>
<circle r="359.55" pathLength="360" stroke-dasharray="2.6735 400" transform="rotate(155.0495)"/>
</g>
<g class="de">
<path d="M0-359.55V-401.85" transform="rotate(151.485)"/><path d="M0-380.7V-401.85" transform="rotate(336.832)"/><path d="M0-380.7V-401.85" transform="rotate(340.396)"/>
<circle r="359.55" pathLength="360" stroke-dasharray="2.6735 400" transform="rotate(61.485)"/>
<circle r="380.7" pathLength="360" stroke-dasharray="3.564 400" transform="rotate(246.832)"/>
</g>
<g class="ac">
<path d="M0-317.25V-401.85" transform="rotate(162.178)"/><path d="M0-338.4V-401.85" transform="rotate(165.743)"/><path d="M0-359.55V-401.85" transform="rotate(169.307)"/><path d="M0-380.7V-401.85" transform="rotate(172.871)"/><path d="M0-380.7V-401.85" transform="rotate(176.436)"/><path d="M0-211.5V-401.85" transform="rotate(254.851)"/>
<circle r="317.25" pathLength="360" stroke-dasharray="3.3418 400" transform="rotate(72.178)"/>
<circle r="338.4" pathLength="360" stroke-dasharray="3.1185 400" transform="rotate(75.743)"/>
<circle r="359.55" pathLength="360" stroke-dasharray="2.673 400" transform="rotate(79.307)"/>
<circle r="380.7" pathLength="360" stroke-dasharray="3.565 400" transform="rotate(82.871)"/>
<circle r="211.5" pathLength="360" stroke-dasharray="23.8294 400" transform="rotate(141.0216)"/>
</g>
<g class="sy">
<path d="M0-380.7V-401.85" transform="rotate(183.564)"/><path d="M0-380.7V-401.85" transform="rotate(187.129)"/>
<circle r="380.7" pathLength="360" stroke-dasharray="3.565 400" transform="rotate(93.564)"/>
</g>
<g class="ha">
<path d="M0-359.55V-401.85" transform="rotate(190.693)"/>
<circle r="359.55" pathLength="360" stroke-dasharray="2.673 400" transform="rotate(100.693)"/>
</g>
<g class="eu">
<path d="M0-380.7V-401.85" transform="rotate(194.257)"/><path d="M0-380.7V-401.85" transform="rotate(197.822)"/>
<circle r="380.7" pathLength="360" stroke-dasharray="3.565 400" transform="rotate(104.257)"/>
</g>
<g class="vr">
<path d="M0-274.95V-401.85" transform="rotate(251.287)"/>
<circle r="274.95" pathLength="360" stroke-dasharray="8.8551 400" transform="rotate(152.4319)"/>
</g>
<g class="fu">
<path d="M0-274.95V-401.85" transform="rotate(258.416)"/>
<circle r="274.95" pathLength="360" stroke-dasharray="9.0779 400" transform="rotate(168.416)"/>
</g>
<g class="bc">
<path d="M0-380.7V-401.85" transform="rotate(261.98)"/><path d="M0-380.7V-401.85" transform="rotate(265.545)"/><path d="M0-359.55V-401.85" transform="rotate(269.109)"/><path d="M0-380.7V-401.85" transform="rotate(272.673)"/><path d="M0-380.7V-401.85" transform="rotate(276.238)"/><path d="M0-317.25V-401.85" transform="rotate(279.802)"/><path d="M0-359.55V-401.85" transform="rotate(283.366)"/><path d="M0-380.7V-401.85" transform="rotate(286.931)"/><path d="M0-380.7V-401.85" transform="rotate(290.495)"/><path d="M0-380.7V-401.85" transform="rotate(294.059)"/><path d="M0-380.7V-401.85" transform="rotate(297.624)"/>
<circle r="380.7" pathLength="360" stroke-dasharray="3.565 400" transform="rotate(171.98)"/>
<circle r="359.55" pathLength="360" stroke-dasharray="2.673 400" transform="rotate(179.109)"/>
<circle r="380.7" pathLength="360" stroke-dasharray="3.565 400" transform="rotate(182.673)"/>
<circle r="317.25" pathLength="360" stroke-dasharray="5.5693 400" transform="rotate(189.802)"/>
<circle r="359.55" pathLength="360" stroke-dasharray="2.6735 400" transform="rotate(193.366)"/>
<circle r="380.7" pathLength="360" stroke-dasharray="3.564 400" transform="rotate(196.931)"/>
<circle r="380.7" pathLength="360" stroke-dasharray="3.565 400" transform="rotate(204.059)"/>
</g>
<g class="pt">
<path d="M0-253.8V-401.85" transform="rotate(301.188)"/><path d="M0-359.55V-401.85" transform="rotate(304.752)"/><path d="M0-380.7V-401.85" transform="rotate(308.317)"/><path d="M0-380.7V-401.85" transform="rotate(311.881)"/><path d="M0-338.4V-401.85" transform="rotate(315.446)"/><path d="M0-359.55V-401.85" transform="rotate(319.01)"/><path d="M0-380.7V-401.85" transform="rotate(322.574)"/><path d="M0-380.7V-401.85" transform="rotate(326.139)"/><path d="M0-317.25V-401.85" transform="rotate(329.703)"/><path d="M0-296.1V-401.85" transform="rotate(333.267)"/>
<circle r="253.8" pathLength="360" stroke-dasharray="8.4375 400" transform="rotate(211.188)"/>
<circle r="359.55" pathLength="360" stroke-dasharray="2.6735 400" transform="rotate(214.752)"/>
<circle r="380.7" pathLength="360" stroke-dasharray="3.564 400" transform="rotate(218.317)"/>
<circle r="338.4" pathLength="360" stroke-dasharray="3.1185 400" transform="rotate(225.446)"/>
<circle r="359.55" pathLength="360" stroke-dasharray="2.673 400" transform="rotate(229.01)"/>
<circle r="380.7" pathLength="360" stroke-dasharray="3.565 400" transform="rotate(232.574)"/>
<circle r="317.25" pathLength="360" stroke-dasharray="5.5692 400" transform="rotate(234.1338)"/>
<circle r="296.1" pathLength="360" stroke-dasharray="4.5666 400" transform="rotate(238.7004)"/>
</g>
</g>
<g id="labels" class="l" transform="translate(901,805)">
<g id="leaf1"><text transform="rotate(-88.218)" x="407" dy=".35em">Blautia</text></g>
<g id="leaf2"><text transform="rotate(-84.653)" x="407" dy=".35em">Ruminococcus_gauvreauii_group</text></g>
<g id="leaf3"><text transform="rotate(-81.089)" x="407" dy=".35em">Coprococcus</text></g>
<g id="leaf4"><text transform="rotate(-77.525)" x="407" dy=".35em">Agathobacter</text></g>
<g id="leaf5"><text transform="rotate(-73.96)" x="407" dy=".35em">Roseburia</text></g>
<g id="leaf6"><text transform="rotate(-70.396)" x="407" dy=".35em">Ruminococcus_torques_group</text></g>
<g id="leaf7"><text transform="rotate(-66.832)" x="407" dy=".35em">Sellimonas</text></g>
<g id="leaf8"><text transform="rotate(-63.267)" x="407" dy=".35em">Fusicatenibacter</text></g>
<g id="leaf9"><text transform="rotate(-59.703)" x="407" dy=".35em">CAG-56</text></g>
<g id="leaf10"><text transform="rotate(-56.139)" x="407" dy=".35em">Lachnospiraceae_UCG-004</text></g>
<g id="leaf11"><text transform="rotate(-52.574)" x="407" dy=".35em">Lachnospiraceae_NK4A136_group</text></g>
<g id="leaf12"><text transform="rotate(-49.01)" x="407" dy=".35em">Lachnoclostridium</text></g>
<g id="leaf13"><text transform="rotate(-45.446)" x="407" dy=".35em">Hungatella</text></g>
<g id="leaf14"><text transform="rotate(-41.881)" x="407" dy=".35em">Anaerostipes</text></g>
<g id="leaf15"><text transform="rotate(-38.317)" x="407" dy=".35em">Eubacterium_xylanophilum_group</text></g>
<g id="leaf16"><text transform="rotate(-34.752)" x="407" dy=".35em">Eubacterium_hallii_group</text></g>
<g id="leaf17"><text transform="rotate(-31.188)" x="407" dy=".35em">Lachnospiraceae_ND3007_group</text></g>
<g id="leaf18"><text transform="rotate(-27.624)" x="407" dy=".35em">Lachnospira</text></g>
<g id="leaf19"><text transform="rotate(-24.059)" x="407" dy=".35em">Eubacterium_eligens_group</text></g>
<g id="leaf20"><text transform="rotate(-20.495)" x="407" dy=".35em">Eubacterium_ruminantium_group</text></g>
<g id="leaf21"><text transform="rotate(-16.931)" x="407" dy=".35em">Clostridia_UCG-014</text></g>
<g id="leaf22"><text transform="rotate(-13.366)" x="407" dy=".35em">Eubacterium_coprostanoligenes_grou</text></g>
<g id="leaf23"><text transform="rotate(-9.802)" x="407" dy=".35em">Butyricicoccus</text></g>
<g id="leaf24"><text transform="rotate(-6.238)" x="407" dy=".35em">UBA1819</text></g>
<g id="leaf25"><text transform="rotate(-2.673)" x="407" dy=".35em">Subdoligranulum</text></g>
<g id="leaf26"><text transform="rotate(0.891)" x="407" dy=".35em">Faecalibacterium</text></g>
<g id="leaf27"><text transform="rotate(4.455)" x="407" dy=".35em">Ruminococcus</text></g>
<g id="leaf28"><text transform="rotate(8.02)" x="407" dy=".35em">CAG-352</text></g>
<g id="leaf29"><text transform="rotate(11.584)" x="407" dy=".35em">Monoglobus</text></g>
<g id="leaf30"><text transform="rotate(15.149)" x="407" dy=".35em">NK4A214_group</text></g>
<g id="leaf31"><text transform="rotate(18.713)" x="407" dy=".35em">UCG-002</text></g>
<g id="leaf32"><text transform="rotate(22.277)" x="407" dy=".35em">UCG-003</text></g>
<g id="leaf33"><text transform="rotate(25.842)" x="407" dy=".35em">Flavonifractor</text></g>
<g id="leaf34"><text transform="rotate(29.406)" x="407" dy=".35em">UCG-005</text></g>
<g id="leaf35"><text transform="rotate(32.97)" x="407" dy=".35em">UCG-010</text></g>
<g id="leaf36"><text transform="rotate(36.535)" x="407" dy=".35em">Eubacterium_siraeum_group</text></g>
<g id="leaf37"><text transform="rotate(40.099)" x="407" dy=".35em">Paeniclostridium</text></g>
<g id="leaf38"><text transform="rotate(43.663)" x="407" dy=".35em">Intestinibacter</text></g>
<g id="leaf39"><text transform="rotate(47.228)" x="407" dy=".35em">Terrisporobacter</text></g>
<g id="leaf40"><text transform="rotate(50.792)" x="407" dy=".35em">Romboutsia</text></g>
<g id="leaf41"><text transform="rotate(54.356)" x="407" dy=".35em">Clostridium_sensu_stricto_1</text></g>
<g id="leaf42"><text transform="rotate(57.921)" x="407" dy=".35em">Sarcina</text></g>
<g id="leaf43"><text transform="rotate(61.485)" x="407" dy=".35em">Smithella</text></g>
<g id="leaf44"><text transform="rotate(65.05)" x="407" dy=".35em">Fenollaria</text></g>
<g id="leaf45"><text transform="rotate(68.614)" x="407" dy=".35em">Anaerococcus</text></g>
<g id="leaf46"><text transform="rotate(72.178)" x="407" dy=".35em">OPB41</text></g>
<g id="leaf47"><text transform="rotate(75.743)" x="407" dy=".35em">Olsenella</text></g>
<g id="leaf48"><text transform="rotate(79.307)" x="407" dy=".35em">Collinsella</text></g>
<g id="leaf49"><text transform="rotate(82.871)" x="407" dy=".35em">Senegalimassilia</text></g>
<g id="leaf50"><text transform="rotate(86.436)" x="407" dy=".35em">Eggerthella</text></g>
<g id="leaf51"><text transform="rotate(90)" x="407" dy=".35em">Christensenellaceae_R-7_group</text></g>
<g id="leaf52"><text class="r" transform="rotate(-86.436)" x="-407" dy=".35em">Acetomicrobium</text></g>
<g id="leaf53"><text class="r" transform="rotate(-82.871)" x="-407" dy=".35em">JGI-0000079-D21</text></g>
<g id="leaf54"><text class="r" transform="rotate(-79.307)" x="-407" dy=".35em">Methanosaeta</text></g>
<g id="leaf55"><text class="r" transform="rotate(-75.743)" x="-407" dy=".35em">Methanobrevibacter</text></g>
<g id="leaf56"><text class="r" transform="rotate(-72.178)" x="-407" dy=".35em">Methanosphaera</text></g>
<g id="leaf57"><text class="r" transform="rotate(-68.614)" x="-407" dy=".35em">Streptococcus</text></g>
<g id="leaf58"><text class="r" transform="rotate(-65.05)" x="-407" dy=".35em">Enterococcus</text></g>
<g id="leaf59"><text class="r" transform="rotate(-61.485)" x="-407" dy=".35em">Lactobacillus</text></g>
<g id="leaf60"><text class="r" transform="rotate(-57.921)" x="-407" dy=".35em">Turicibacter</text></g>
<g id="leaf61"><text class="r" transform="rotate(-54.356)" x="-407" dy=".35em">Erysipelotrichaceae_UCG-003</text></g>
<g id="leaf62"><text class="r" transform="rotate(-50.792)" x="-407" dy=".35em">Erysipelatoclostridium</text></g>
<g id="leaf63"><text class="r" transform="rotate(-47.228)" x="-407" dy=".35em">Holdemanella</text></g>
<g id="leaf64"><text class="r" transform="rotate(-43.663)" x="-407" dy=".35em">RF39</text></g>
<g id="leaf65"><text class="r" transform="rotate(-40.099)" x="-407" dy=".35em">Phascolarctobacterium</text></g>
<g id="leaf66"><text class="r" transform="rotate(-36.535)" x="-407" dy=".35em">Megamonas</text></g>
<g id="leaf67"><text class="r" transform="rotate(-32.97)" x="-407" dy=".35em">Megasphaera</text></g>
<g id="leaf68"><text class="r" transform="rotate(-29.406)" x="-407" dy=".35em">Dialister</text></g>
<g id="leaf69"><text class="r" transform="rotate(-25.842)" x="-407" dy=".35em">Allisonella</text></g>
<g id="leaf70"><text class="r" transform="rotate(-22.277)" x="-407" dy=".35em">Veillonella</text></g>
<g id="leaf71"><text class="r" transform="rotate(-18.713)" x="-407" dy=".35em">Akkermansia</text></g>
<g id="leaf72"><text class="r" transform="rotate(-15.149)" x="-407" dy=".35em">Bifidobacterium</text></g>
<g id="leaf73"><text class="r" transform="rotate(-11.584)" x="-407" dy=".35em">Fusobacterium</text></g>
<g id="leaf74"><text class="r" transform="rotate(-8.02)" x="-407" dy=".35em">Paraprevotella</text></g>
<g id="leaf75"><text class="r" transform="rotate(-4.455)" x="-407" dy=".35em">Prevotellaceae_Ga6A1_group</text></g>
<g id="leaf76"><text class="r" transform="rotate(-0.891)" x="-407" dy=".35em">Alloprevotella</text></g>
<g id="leaf77"><text class="r" transform="rotate(2.673)" x="-407" dy=".35em">Prevotella</text></g>
<g id="leaf78"><text class="r" transform="rotate(6.238)" x="-407" dy=".35em">Prevotellaceae_NK3B31_group</text></g>
<g id="leaf79"><text class="r" transform="rotate(9.802)" x="-407" dy=".35em">Barnesiella</text></g>
<g id="leaf80"><text class="r" transform="rotate(13.366)" x="-407" dy=".35em">Bacteroides</text></g>
<g id="leaf81"><text class="r" transform="rotate(16.931)" x="-407" dy=".35em">Porphyromonas</text></g>
<g id="leaf82"><text class="r" transform="rotate(20.495)" x="-407" dy=".35em">Parabacteroides</text></g>
<g id="leaf83"><text class="r" transform="rotate(24.059)" x="-407" dy=".35em">Muribaculaceae</text></g>
<g id="leaf84"><text class="r" transform="rotate(27.624)" x="-407" dy=".35em">Alistipes</text></g>
<g id="leaf85"><text class="r" transform="rotate(31.188)" x="-407" dy=".35em">Methylobacterium-Methylorubrum</text></g>
<g id="leaf86"><text class="r" transform="rotate(34.752)" x="-407" dy=".35em">Castellaniella</text></g>
<g id="leaf87"><text class="r" transform="rotate(38.317)" x="-407" dy=".35em">Parasutterella</text></g>
<g id="leaf88"><text class="r" transform="rotate(41.881)" x="-407" dy=".35em">Sutterella</text></g>
<g id="leaf89"><text class="r" transform="rotate(45.446)" x="-407" dy=".35em">Escherichia-Shigella</text></g>
<g id="leaf90"><text class="r" transform="rotate(49.01)" x="-407" dy=".35em">Serratia</text></g>
<g id="leaf91"><text class="r" transform="rotate(52.574)" x="-407" dy=".35em">Morganella</text></g>
<g id="leaf92"><text class="r" transform="rotate(56.139)" x="-407" dy=".35em">Haemophilus</text></g>
<g id="leaf93"><text class="r" transform="rotate(59.703)" x="-407" dy=".35em">Klebsiella</text></g>
<g id="leaf94"><text class="r" transform="rotate(63.267)" x="-407" dy=".35em">Pseudomonas</text></g>
<g id="leaf95"><text class="r" transform="rotate(66.832)" x="-407" dy=".35em">Desulfovibrio</text></g>
<g id="leaf96"><text class="r" transform="rotate(70.396)" x="-407" dy=".35em">Bilophila</text></g>
<g id="leaf97"><text class="r" transform="rotate(73.96)" x="-407" dy=".35em">Eubacterium_ventriosum_group</text></g>
<g id="leaf98"><text class="r" transform="rotate(77.525)" x="-407" dy=".35em">Tyzzerella</text></g>
<g id="leaf99"><text class="r" transform="rotate(81.089)" x="-407" dy=".35em">Ruminococcus_gnavus_group</text></g>
<g id="leaf100"><text class="r" transform="rotate(84.653)" x="-407" dy=".35em">Dorea</text></g>
</g>
<g id="legend-abundance">
<text class="lt" x="7" y="28">Abundance</text>
<rect class="pr" x="7" y="45" width="13" height="12"/><text class="lg" x="32" y="60">PR</text>
<rect class="ag" x="7" y="78" width="13" height="12"/><text class="lg" x="32" y="94">AGBR</text>
</g>
<g id="legend-phylum" class="lt">
<text x="1720" y="27">Phylum</text>
<rect x="1718" y="40" width="14" height="13" fill="#FFC0CB"/><text x="1743" y="53">Proteobacteria</text>
<rect x="1718" y="64.7" width="14" height="13" fill="#F5DEB3"/><text x="1743" y="77.7">Verrucomicrobiota</text>
<rect x="1718" y="89.4" width="14" height="13" fill="#E0FFFF"/><text x="1743" y="102.4">Bacteroidota</text>
<rect x="1718" y="114.1" width="14" height="13" fill="#9370DB"/><text x="1743" y="127.1">Firmicutes</text>
<rect x="1718" y="138.8" width="14" height="13" fill="#DDA0DD"/><text x="1743" y="151.8">Actinobacteriota</text>
<rect x="1718" y="163.5" width="14" height="13" fill="#9932CC"/><text x="1743" y="176.5">Desulfobacterota</text>
<rect x="1718" y="188.2" width="14" height="13" fill="#9ACD32"/><text x="1743" y="201.2">Euryarchaeota</text>
<rect x="1718" y="212.9" width="14" height="13" fill="#CD853F"/><text x="1743" y="225.9">Fusobacteriota</text>
<rect x="1718" y="237.6" width="14" height="13" fill="#40E0D0"/><text x="1743" y="250.6">Synergistota</text>
<rect x="1718" y="262.3" width="14" height="13" fill="#87CEEB"/><text x="1743" y="275.3">Halobacterota</text>
</g>
</svg>
